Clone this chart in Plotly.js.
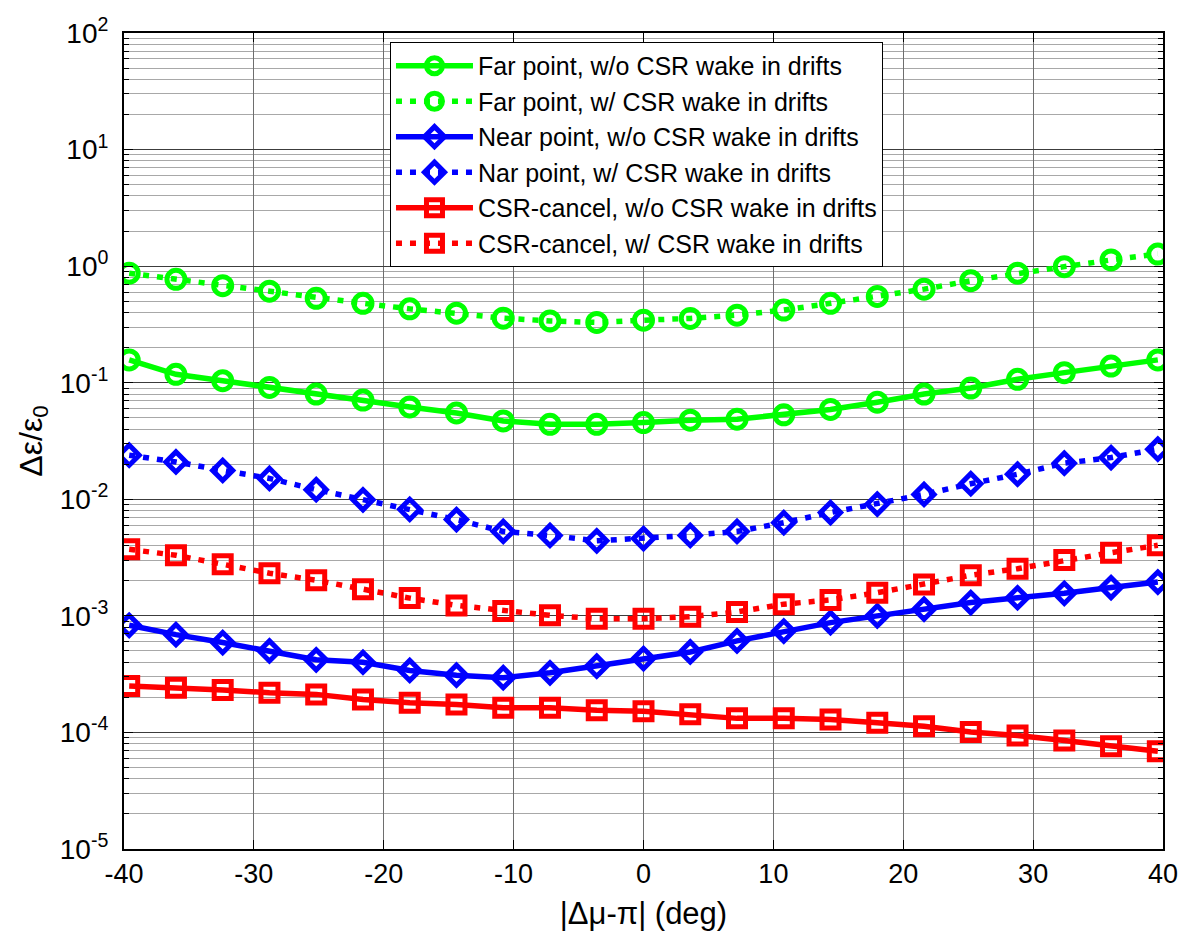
<!DOCTYPE html>
<html>
<head>
<meta charset="utf-8">
<script src="https://cdn.plot.ly/plotly-3.0.1.min.js"></script>
<style>
  html, body { margin: 0; padding: 0; background: #ffffff; }
  #chart { width: 1180px; height: 932px; }
</style>
</head>
<body>
<div id="chart"></div>
<script>
// Phase advance offset |Δμ-π| in degrees
const phaseDeg = [-39.6, -36, -32.4, -28.8, -25.2, -21.6, -18, -14.4, -10.8, -7.2, -3.6, 0,
                  3.6, 7.2, 10.8, 14.4, 18, 21.6, 25.2, 28.8, 32.4, 36, 39.6];

// Relative emittance growth Δε/ε0 for each lattice case
const farNoDrift = [0.157, 0.118, 0.104, 0.091, 0.080, 0.071, 0.062, 0.055, 0.047, 0.044, 0.044, 0.0455,
                    0.0477, 0.0486, 0.053, 0.059, 0.068, 0.080, 0.090, 0.107, 0.122, 0.139, 0.157];
const farDrift   = [0.87, 0.77, 0.68, 0.61, 0.53, 0.48, 0.43, 0.395, 0.358, 0.339, 0.329, 0.344,
                    0.356, 0.38, 0.42, 0.48, 0.55, 0.635, 0.75, 0.87, 0.99, 1.13, 1.27];
const nearNoDrift = [0.00083, 0.00069, 0.00059, 0.00050, 0.00042, 0.00040, 0.00034, 0.00031, 0.000295,
                     0.000325, 0.00037, 0.00043, 0.00049, 0.00061, 0.00074, 0.000875, 0.0010, 0.00114,
                     0.0013, 0.00143, 0.00156, 0.00175, 0.00195];
const nearDrift  = [0.0239, 0.0209, 0.0177, 0.0151, 0.0121, 0.0099, 0.0082, 0.0067, 0.0053, 0.0049,
                    0.0044, 0.0046, 0.0049, 0.0053, 0.0063, 0.0077, 0.0091, 0.0110, 0.0136, 0.0164,
                    0.0204, 0.0228, 0.0269];
const cancelNoDrift = [0.00025, 0.000242, 0.000231, 0.000219, 0.000212, 0.000192, 0.00018, 0.000174,
                       0.000163, 0.000163, 0.000155, 0.000152, 0.000143, 0.000132, 0.000132, 0.000129,
                       0.000121, 0.000113, 0.000101, 0.0000942, 0.0000853, 0.0000762, 0.000069];
const cancelDrift = [0.00372, 0.00331, 0.00277, 0.00232, 0.00202, 0.00169, 0.00142, 0.00123, 0.00110,
                     0.00101, 0.000946, 0.000946, 0.000984, 0.00108, 0.00126, 0.00137, 0.00158, 0.00186,
                     0.00223, 0.00254, 0.00301, 0.00348, 0.00403];

const seriesNames = [
  'Far point, w/o CSR wake in drifts',
  'Far point, w/ CSR wake in drifts',
  'Near point, w/o CSR wake in drifts',
  'Nar point, w/ CSR wake in drifts',
  'CSR-cancel, w/o CSR wake in drifts',
  'CSR-cancel, w/ CSR wake in drifts'
];

// Decade tick positions and their labels
const yTickVals = [1e-5, 1e-4, 1e-3, 1e-2, 1e-1, 1e0, 1e1, 1e2];
const yTickText = ['10<sup>-5</sup>', '10<sup>-4</sup>', '10<sup>-3</sup>', '10<sup>-2</sup>',
                   '10<sup>-1</sup>', '10<sup>0</sup>', '10<sup>1</sup>', '10<sup>2</sup>'];
const xTickVals = [-40, -30, -20, -10, 0, 10, 20, 30, 40];
const xTickText = ['-40', '-30', '-20', '-10', '0', '10', '20', '30', '40'];

const GREEN = '#00ff00', BLUE = '#0000ff', RED = '#ff0000';
const LW = 5.5;
const DOTTED = '6px,8px';

function trace(y, name, color, dash, symbol, size) {
  return {
    x: phaseDeg, y: y, name: name, type: 'scatter', mode: 'lines+markers',
    line: { color: color, width: LW, dash: dash },
    marker: { symbol: symbol, size: size, color: color,
              line: { color: color, width: 5 } }
  };
}

const data = [
  trace(farNoDrift,    seriesNames[0], GREEN, 'solid', 'circle-open', 18),
  trace(farDrift,      seriesNames[1], GREEN, DOTTED,  'circle-open', 18),
  trace(nearNoDrift,   seriesNames[2], BLUE,  'solid', 'diamond-open', 15.5),
  trace(nearDrift,     seriesNames[3], BLUE,  DOTTED,  'diamond-open', 15.5),
  trace(cancelNoDrift, seriesNames[4], RED,   'solid', 'square-open', 17),
  trace(cancelDrift,   seriesNames[5], RED,   DOTTED,  'square-open', 17)
];

const FONT = 'Arial, "Liberation Sans", sans-serif';

const layout = {
  width: 1180, height: 932,
  margin: { l: 124, r: 17, t: 33, b: 83 },
  paper_bgcolor: '#ffffff', plot_bgcolor: '#ffffff',
  font: { family: FONT, size: 27, color: '#000000' },
  showlegend: true,
  legend: {
    x: 0.256, y: 0.989, xanchor: 'left', yanchor: 'top',
    bgcolor: '#ffffff', bordercolor: '#000000', borderwidth: 1,
    font: { family: FONT, size: 25, color: '#000000' },
    itemwidth: 77
  },
  xaxis: {
    range: [-40, 40], tickvals: xTickVals, ticktext: xTickText,
    ticks: 'inside', ticklen: 9, tickcolor: '#000000',
    showline: true, linecolor: '#000000', linewidth: 2, mirror: 'allticks',
    showgrid: true, gridcolor: '#6e6e6e', gridwidth: 1, zeroline: false,
    tickfont: { family: FONT, size: 27 },
    title: { text: '|Δμ-π| (deg)', font: { family: FONT, size: 31 }, standoff: 14 }
  },
  yaxis: {
    type: 'log', range: [-5, 2], tickvals: yTickVals, ticktext: yTickText,
    ticks: 'inside', ticklen: 9, tickcolor: '#000000', ticklabelstandoff: 8,
    showline: true, linecolor: '#000000', linewidth: 2, mirror: 'allticks',
    showgrid: true, gridcolor: '#3c3c3c', gridwidth: 1, zeroline: false,
    tickfont: { family: FONT, size: 28 },
    minor: { dtick: 'D1', showgrid: true, gridcolor: '#a8a8a8', gridwidth: 1,
             ticks: 'inside', ticklen: 5, tickcolor: '#000000' },
    title: { text: 'Δε/ε<sub>0</sub>', font: { family: FONT, size: 32 }, standoff: 8 }
  }
};

Plotly.newPlot('chart', data, layout, { displayModeBar: false, staticPlot: true });
</script>
</body>
</html>
